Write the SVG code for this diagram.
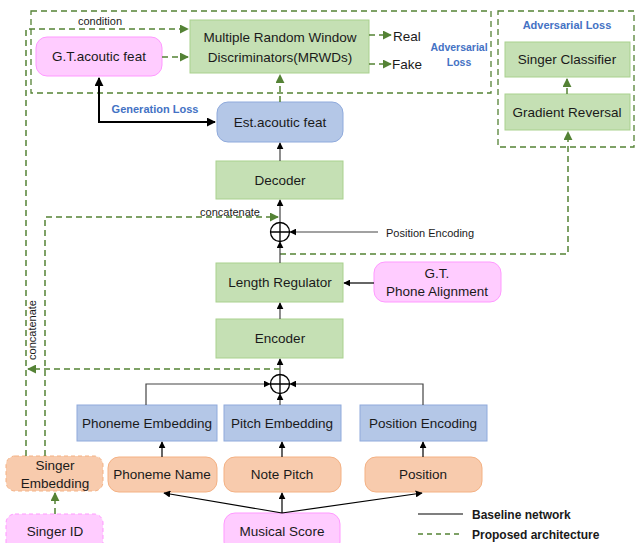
<svg xmlns="http://www.w3.org/2000/svg" width="636" height="543" viewBox="0 0 636 543">
<defs>
<style>
text{font-family:"Liberation Sans",Arial,sans-serif;fill:#1a1a1a;text-anchor:middle}
.t{font-size:13.5px}
.s{font-size:11px}
.b{font-size:11px;font-weight:bold;fill:#4472c4}
.lg{font-size:12px;font-weight:bold;text-anchor:start}
.g{fill:#c5e0b4;stroke:#a9d18e;stroke-width:1}
.bl{fill:#b4c7e7;stroke:#8faadc;stroke-width:1}
.o{fill:#f8cbad;stroke:#f4b183;stroke-width:1}
.p{fill:#ffccff;stroke:#ff99ff;stroke-width:1}
.dsh{stroke-dasharray:4,3}
.k{fill:none;stroke:#000;stroke-width:1.2}
.kg{fill:none;stroke:#444;stroke-width:1.2}
.gd{fill:none;stroke:#548235;stroke-width:1.5;stroke-dasharray:6,4}
</style>
<marker id="ak" viewBox="0 0 10 10" refX="9" refY="5" markerWidth="7" markerHeight="7" markerUnits="userSpaceOnUse" orient="auto-start-reverse"><path d="M0,0L10,5L0,10z" fill="#000"/></marker>
<marker id="ak2" viewBox="0 0 10 10" refX="9" refY="5" markerWidth="9" markerHeight="9" markerUnits="userSpaceOnUse" orient="auto-start-reverse"><path d="M0,0L10,5L0,10z" fill="#000"/></marker>
<marker id="ag" viewBox="0 0 10 10" refX="9" refY="5" markerWidth="9" markerHeight="9" markerUnits="userSpaceOnUse" orient="auto-start-reverse"><path d="M0,0L10,5L0,10z" fill="#548235"/></marker>
</defs>

<g id="adv-box-1"><rect x="31" y="11" width="460" height="82" fill="none" stroke="#548235" stroke-width="1.3" stroke-dasharray="6,4"/></g>
<g id="adv-box-2"><rect x="498" y="11" width="136" height="136" fill="none" stroke="#548235" stroke-width="1.3" stroke-dasharray="6,4"/>
<text class="b" x="567" y="29">Adversarial Loss</text></g>

<g id="mrwd"><rect class="g" x="190" y="20" width="179" height="53"/>
<text class="t" x="280" y="42">Multiple Random Window</text>
<text class="t" x="280" y="62">Discriminators(MRWDs)</text></g>
<g id="gt-feat"><rect class="p" x="36" y="37" width="126" height="39" rx="11"/>
<text class="t" x="99" y="61">G.T.acoutic feat</text></g>
<g id="real"><text class="t" x="407" y="41">Real</text></g>
<g id="fake"><text class="t" x="407" y="69">Fake</text></g>
<g id="adv-label"><text class="b" x="459" y="51" style="font-size:10.5px">Adversarial</text><text class="b" x="459" y="66" style="font-size:10.5px">Loss</text></g>
<g id="est-feat"><rect class="bl" x="217" y="102" width="126" height="40" rx="11"/>
<text class="t" x="280" y="127">Est.acoutic feat</text></g>
<g id="singer-classifier"><rect class="g" x="505" y="42" width="125" height="35"/>
<text class="t" x="567" y="64">Singer Classifier</text></g>
<g id="gradient-reversal"><rect class="g" x="505" y="94" width="125" height="36"/>
<text class="t" x="567" y="117">Gradient Reversal</text></g>
<g id="decoder"><rect class="g" x="216" y="161" width="127" height="38"/>
<text class="t" x="280" y="185">Decoder</text></g>
<g id="add1"><circle cx="280" cy="232" r="9.5" fill="#fff" stroke="#000" stroke-width="1.3"/><path d="M270.5,232H289.5M280,222.5V241.5" stroke="#000" stroke-width="1.3"/></g>
<g id="length-regulator"><rect class="g" x="216" y="263" width="127" height="39"/>
<text class="t" x="280" y="287">Length Regulator</text></g>
<g id="gt-phone"><rect class="p" x="374" y="262" width="127" height="40" rx="11"/>
<text class="t" x="437" y="278">G.T.</text><text class="t" x="437" y="296">Phone Alignment</text></g>
<g id="encoder"><rect class="g" x="216" y="319" width="127" height="39"/>
<text class="t" x="280" y="343">Encoder</text></g>
<g id="add2"><circle cx="280" cy="384" r="9.5" fill="#fff" stroke="#000" stroke-width="1.3"/><path d="M270.5,384H289.5M280,374.5V393.5" stroke="#000" stroke-width="1.3"/></g>
<g id="phoneme-embedding"><rect class="bl" x="77" y="405" width="140" height="36"/>
<text class="t" x="147" y="428">Phoneme Embedding</text></g>
<g id="pitch-embedding"><rect class="bl" x="224" y="405" width="117" height="36"/>
<text class="t" x="282" y="428">Pitch Embedding</text></g>
<g id="position-encoding"><rect class="bl" x="360" y="405" width="127" height="36"/>
<text class="t" x="423" y="428">Position Encoding</text></g>
<g id="singer-embedding"><rect class="o dsh" x="6" y="456" width="97" height="35" rx="9"/>
<text class="t" x="55" y="470">Singer</text><text class="t" x="55" y="488">Embedding</text></g>
<g id="phoneme-name"><rect class="o" x="108" y="457" width="109" height="35" rx="11"/>
<text class="t" x="162" y="479">Phoneme Name</text></g>
<g id="note-pitch"><rect class="o" x="224" y="457" width="117" height="35" rx="11"/>
<text class="t" x="282" y="479">Note Pitch</text></g>
<g id="position"><rect class="o" x="365" y="457" width="117" height="35" rx="11"/>
<text class="t" x="423" y="479">Position</text></g>
<g id="singer-id"><rect class="p dsh" x="6" y="514" width="97" height="40" rx="9"/>
<text class="t" x="55" y="536">Singer ID</text></g>
<g id="musical-score"><rect class="p" x="224" y="513" width="116" height="40" rx="11"/>
<text class="t" x="282" y="536">Musical Score</text></g>

<g id="connectors">
<path class="gd" d="M162,57H188" marker-end="url(#ag)"/>
<path class="gd" d="M280,102V75" marker-end="url(#ag)"/>
<path class="gd" d="M369,35H391" marker-end="url(#ag)"/>
<path class="gd" d="M369,64H391" marker-end="url(#ag)"/>
<path d="M99,78V122H215" fill="none" stroke="#000" stroke-width="2" marker-start="url(#ak2)" marker-end="url(#ak2)"/>
<path class="gd" d="M567,94V79" marker-end="url(#ag)"/>
<path class="gd" d="M280,254H568V132" marker-end="url(#ag)"/>
<path class="kg" d="M280,161V143" marker-end="url(#ak)"/>
<path class="kg" d="M280,222V200" marker-end="url(#ak)"/>
<path class="kg" d="M280,263V242" marker-end="url(#ak)"/>
<path class="kg" d="M378,232H290" marker-end="url(#ak)"/>
<path class="k" d="M374,283H344" marker-end="url(#ak)"/>
<path class="kg" d="M280,319V303" marker-end="url(#ak)"/>
<path class="kg" d="M280,374V359" marker-end="url(#ak)"/>
<path class="kg" d="M146,405V384H270" marker-end="url(#ak)"/>
<path class="kg" d="M423,405V384H290" marker-end="url(#ak)"/>
<path class="kg" d="M280,405V394" marker-end="url(#ak)"/>
<path class="k" d="M162,457V442" marker-end="url(#ak)"/>
<path class="k" d="M282,457V442" marker-end="url(#ak)"/>
<path class="k" d="M423,457V442" marker-end="url(#ak)"/>
<path class="k" d="M282,513V493" marker-end="url(#ak)"/>
<path class="k" d="M282,513L164,493" marker-end="url(#ak)"/>
<path class="k" d="M282,513L422,493" marker-end="url(#ak)"/>
<path class="gd" d="M55,514V493" marker-end="url(#ag)"/>
<path class="gd" d="M26,456V29H188" marker-end="url(#ag)"/>
<path class="gd" d="M45,456V217H278" marker-end="url(#ag)"/>
<path class="gd" d="M280,369H28" marker-end="url(#ag)"/>
<text class="s" x="100" y="25">condition</text>
<text class="s" x="230" y="216">concatenate</text>
<text class="s" transform="translate(36,330) rotate(-90)">concatenate</text>
<text class="s" x="386" y="237" style="text-anchor:start">Position Encoding</text>
<text class="b" x="155" y="113">Generation Loss</text>
</g>

<g id="legend">
<path d="M418,514H463" stroke="#000" stroke-width="1.2"/>
<path d="M418,534H463" stroke="#548235" stroke-width="1.5" stroke-dasharray="5,4"/>
<text class="lg" x="472" y="519">Baseline network</text>
<text class="lg" x="472" y="539">Proposed architecture</text>
</g>
</svg>
